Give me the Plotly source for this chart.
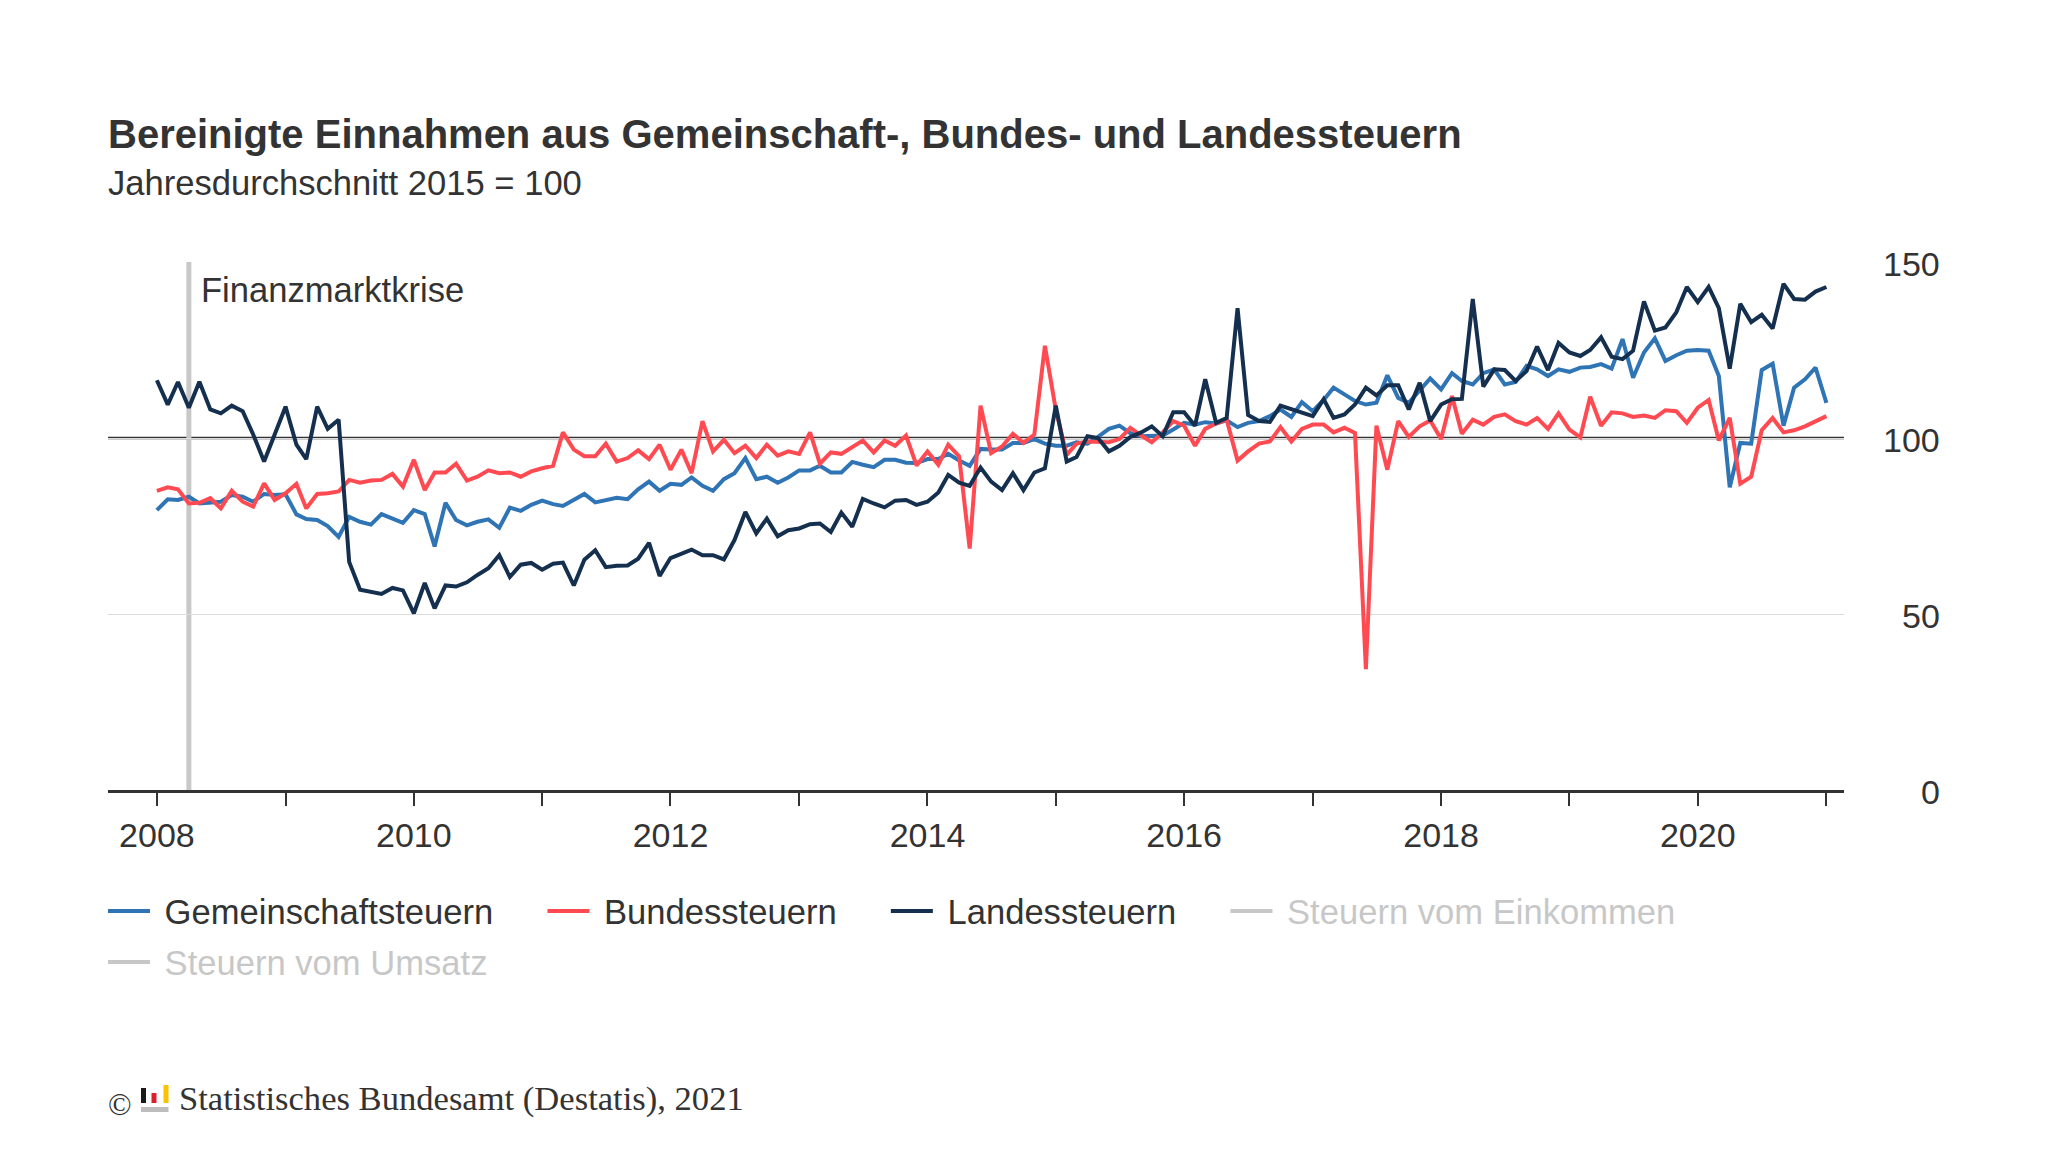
import pandas as pd
import plotly.graph_objects as go

# ---------------- data ----------------
months = pd.date_range("2008-01-01", periods=157, freq="MS")

gemeinschaftsteuern = [
    79.5, 82.6, 82.4, 83.3, 81.4, 81.6, 81.9, 83.8, 83.3, 81.9, 84.1, 83.8,
    84.0, 78.3, 77.0, 76.7, 75.0, 71.9, 77.6, 76.2, 75.4, 78.4, 77.1, 75.9,
    79.5, 78.4, 69.2, 81.6, 76.7, 75.2, 76.2, 76.9, 74.5, 80.2, 79.3, 81.0,
    82.2, 81.2, 80.7, 82.4, 84.1, 81.7, 82.2, 83.0, 82.6, 85.4, 87.6, 85.0,
    87.0, 86.7, 88.8, 86.4, 85.0, 88.3, 90.0, 94.3, 88.3, 89.0, 87.3, 88.8,
    90.8, 90.8, 92.1, 90.2, 90.2, 93.2, 92.4, 91.7, 93.8, 93.8, 93.0, 92.9,
    94.0, 94.0, 95.5, 93.6, 92.1, 96.9, 96.7, 96.7, 98.6, 98.6, 99.7, 98.4,
    97.8, 97.8, 98.8, 98.4, 100.3, 102.6, 103.5, 101.4, 100.5, 100.5, 100.7, 102.4,
    104.3, 103.8, 104.5, 104.1, 105.0, 103.1, 104.3, 104.8, 106.2, 108.1, 106.0, 110.2,
    107.6, 110.8, 114.3, 112.4, 110.5, 109.5, 110.0, 117.8, 111.4, 110.0, 113.6, 116.9,
    113.8, 118.4, 116.2, 115.2, 118.4, 119.5, 115.2, 115.9, 120.5, 119.5, 117.6, 119.5,
    118.8, 120.0, 120.2, 121.0, 119.7, 128.1, 117.1, 124.3, 128.3, 121.9, 123.5, 124.8,
    125.0, 124.8, 117.6, 86.0, 98.6, 98.4, 119.3, 121.1, 103.5, 114.3, 116.7, 120.0,
    110.0,
]

bundessteuern = [
    85.0, 86.0, 85.4, 81.4, 81.6, 82.9, 80.0, 85.0, 81.9, 80.5, 87.1, 82.4,
    84.3, 87.0, 80.0, 84.1, 84.3, 84.8, 88.1, 87.3, 87.9, 88.1, 89.8, 86.2,
    93.8, 85.2, 90.2, 90.2, 92.7, 87.9, 89.0, 90.8, 90.0, 90.2, 89.0, 90.5,
    91.4, 92.1, 101.6, 96.7, 94.8, 94.8, 98.4, 93.3, 94.3, 96.5, 94.0, 98.1,
    91.0, 96.7, 90.0, 104.8, 96.2, 99.5, 95.7, 97.8, 94.3, 98.1, 95.0, 96.2,
    95.5, 101.6, 92.7, 95.9, 95.5, 97.6, 99.3, 95.9, 99.3, 97.8, 100.7, 92.2,
    96.2, 92.4, 98.1, 94.8, 68.6, 109.2, 95.7, 97.6, 101.2, 98.6, 101.0, 126.2,
    108.0, 95.2, 98.4, 99.0, 99.0, 98.8, 99.7, 102.9, 100.7, 98.8, 101.6, 104.8,
    103.5, 97.8, 102.6, 104.1, 105.2, 93.6, 96.2, 98.4, 99.0, 103.1, 99.0, 102.6,
    103.8, 103.8, 101.6, 102.9, 101.4, 34.3, 103.5, 91.0, 104.8, 100.3, 103.3, 105.0,
    99.7, 111.9, 101.2, 105.2, 103.8, 106.0, 106.7, 104.8, 103.8, 105.7, 102.6, 107.0,
    102.4, 100.2, 111.7, 103.5, 107.3, 107.0, 106.0, 106.4, 105.7, 107.9, 107.6, 104.3,
    108.6, 110.8, 99.3, 105.7, 87.0, 89.0, 102.2, 105.7, 101.6, 102.2, 103.3, 104.8,
    106.2,
]

landessteuern = [
    116.4, 109.5, 115.9, 108.6, 116.0, 108.1, 107.0, 109.2, 107.6, 101.0, 93.3, 101.2,
    108.9, 98.1, 94.0, 108.9, 102.6, 105.2, 64.8, 56.9, 56.4, 55.7, 57.4, 56.7,
    50.2, 58.8, 51.6, 58.1, 57.8, 59.0, 61.1, 63.0, 66.7, 60.5, 64.0, 64.5,
    62.6, 64.3, 64.6, 58.1, 65.4, 68.1, 63.3, 63.7, 63.8, 65.7, 70.2, 60.8,
    65.9, 67.0, 68.3, 66.7, 66.7, 65.5, 71.0, 79.0, 72.9, 77.1, 72.1, 73.8,
    74.3, 75.5, 75.7, 73.3, 78.8, 74.8, 82.7, 81.4, 80.3, 82.2, 82.4, 81.0,
    81.9, 84.5, 89.5, 87.3, 86.4, 91.6, 87.6, 85.2, 90.0, 85.2, 90.2, 91.4,
    109.2, 93.3, 94.6, 100.5, 100.0, 96.2, 97.8, 100.3, 101.6, 103.3, 100.5, 107.3,
    107.3, 103.5, 116.7, 104.3, 105.7, 136.9, 106.5, 104.8, 104.6, 109.2, 108.1, 107.3,
    106.2, 111.0, 105.7, 106.7, 109.5, 114.3, 112.1, 115.0, 115.0, 108.1, 115.7, 104.8,
    109.5, 111.0, 111.1, 139.5, 114.6, 119.5, 119.3, 116.2, 119.0, 126.0, 119.3, 127.0,
    124.3, 123.3, 125.0, 128.6, 123.1, 122.4, 124.8, 138.8, 130.5, 131.4, 135.7, 142.9,
    138.6, 142.9, 136.9, 119.7, 138.1, 132.9, 135.0, 131.1, 143.8, 139.5, 139.3, 141.6,
    142.9,
]

series_names = ["Gemeinschaftsteuern", "Bundessteuern", "Landessteuern"]
hidden_names = ["Steuern vom Einkommen", "Steuern vom Umsatz"]
x_tick_years = list(range(2008, 2022))
x_tick_labels = [str(y) if y % 2 == 0 else "" for y in x_tick_years]
y_tick_values = [0, 50, 100, 150]
y_tick_labels = ["0", "50", "100", "150"]
reference_value = 100
crisis_date = "2008-04-01"
crisis_label = "Finanzmarktkrise"

title_text = "<b>Bereinigte Einnahmen aus Gemeinschaft-, Bundes- und Landessteuern</b>"
subtitle_text = "Jahresdurchschnitt 2015 = 100"
source_text = "Statistisches Bundesamt (Destatis), 2021"

# ---------------- geometry / style ----------------
W, H = 2048, 1152
L, R, T, B = 108, 204, 262, 362
PW, PH = W - L - R, H - T - B
TEXT = "#333333"
SANS = "Liberation Sans, Arial, sans-serif"
SERIF = "Liberation Serif, Times New Roman, serif"
FS = 34.6
colors = ["#2f74b5", "#ff4a52", "#15304f"]
HIDDEN = "#919191"  # plotly shows legend-only traces at 50% opacity -> ~#c8c8c8
LEAD = "\u00a0"                    # gap between legend line and text
TRAIL = "\u2002\u2002\u00a0"       # gap between legend entries


def px(xp):
    return (xp - L) / PW


def py(yp):
    return (H - B - yp) / PH


fig = go.Figure()
for name, vals, col in zip(series_names, [gemeinschaftsteuern, bundessteuern, landessteuern], colors):
    fig.add_trace(go.Scatter(x=months, y=vals, mode="lines", name=LEAD + name + TRAIL,
                             line=dict(color=col, width=4), legend="legend",
                             hovertemplate=name + ": %{y}<extra></extra>"))
for i, name in enumerate(hidden_names):
    fig.add_trace(go.Scatter(x=[months[0]], y=[None], mode="lines", visible="legendonly",
                             name=f'{LEAD}<span style="color:{HIDDEN}">{name}</span>',
                             line=dict(color=HIDDEN, width=4),
                             legend="legend" if i == 0 else "legend2"))

annotations = []
annotations.append(dict(text=subtitle_text, xref="paper", yref="paper", x=0, y=py(183),
                        xanchor="left", yanchor="middle", xshift=-2, showarrow=False,
                        font=dict(size=FS, color=TEXT, family=SANS)))
annotations.append(dict(text=crisis_label, xref="x", yref="y", x=crisis_date, y=142.0,
                        xanchor="left", yanchor="middle", xshift=10, showarrow=False,
                        font=dict(size=FS, color=TEXT, family=SANS)))
for v, lab in zip(y_tick_values, y_tick_labels):
    annotations.append(dict(text=lab, xref="paper", yref="y", x=px(1942), y=v,
                            xanchor="right", yanchor="middle", yshift=-2, showarrow=False,
                            font=dict(size=34, color=TEXT, family=SANS)))
annotations.append(dict(text="©", xref="paper", yref="paper", x=px(106), y=py(1104),
                        xanchor="left", yanchor="middle", showarrow=False,
                        font=dict(size=31, color=TEXT, family=SERIF)))
annotations.append(dict(text=source_text, xref="paper", yref="paper", x=px(177), y=py(1098),
                        xanchor="left", yanchor="middle", showarrow=False,
                        font=dict(size=FS, color=TEXT, family=SERIF)))

shapes = [
    dict(type="line", xref="paper", yref="y", x0=0, x1=1, y0=reference_value, y1=reference_value,
         line=dict(color=TEXT, width=2.5), layer="below"),
    dict(type="line", xref="x", yref="y", x0=crisis_date, x1=crisis_date, y0=0, y1=150,
         line=dict(color="#c8c8c8", width=5), layer="below"),
]
# small Destatis logo next to the source line
logo = [((141, 1088, 146, 1103), "#1a1a1a"), ((151.5, 1093, 156.5, 1103), "#d8232a"),
        ((163.5, 1085, 168.5, 1103), "#fbc200"), ((141, 1107, 168.5, 1112), "#bdbdbd")]
for (x0, y0, x1, y1), c in logo:
    shapes.append(dict(type="rect", xref="paper", yref="paper", x0=px(x0), x1=px(x1),
                       y0=py(y1), y1=py(y0), fillcolor=c, line=dict(width=0)))

legend_common = dict(orientation="h", xanchor="left", yanchor="top",
                     font=dict(size=FS, color=TEXT, family=SANS), itemwidth=42,
                     bgcolor="rgba(0,0,0,0)", itemclick=False, itemdoubleclick=False)

fig.update_layout(
    width=W, height=H,
    margin=dict(l=L, r=R, t=T, b=B, pad=0),
    paper_bgcolor="white", plot_bgcolor="white",
    font=dict(family=SANS, size=34, color=TEXT),
    title=dict(text=title_text, xref="paper", x=0, xanchor="left",
               yref="container", y=1 - 134 / H, yanchor="middle",
               font=dict(size=40, color=TEXT, family=SANS)),
    xaxis=dict(type="date", range=["2007-08-15", "2021-02-20"],
               tickmode="array", tickvals=[f"{y}-01-01" for y in x_tick_years],
               ticktext=x_tick_labels, ticks="outside", ticklen=13, tickwidth=2,
               tickcolor=TEXT, showline=True, linecolor=TEXT, linewidth=2.5,
               showgrid=False, zeroline=False,
               tickfont=dict(size=34, color=TEXT)),
    yaxis=dict(range=[0, 150], tickvals=y_tick_values, showticklabels=False,
               showgrid=True, gridcolor="#dcdcdc", gridwidth=1.3, zeroline=False,
               showline=False, ticks=""),
    legend=dict(x=px(103), y=py(882), **legend_common),
    legend2=dict(x=px(103), y=py(933), **legend_common),
    annotations=annotations,
    shapes=shapes,
    showlegend=True,
)

fig.write_html("out.html", config={"displayModeBar": False},
               post_script="document.body.style.margin='0';document.body.style.overflow='hidden';")
